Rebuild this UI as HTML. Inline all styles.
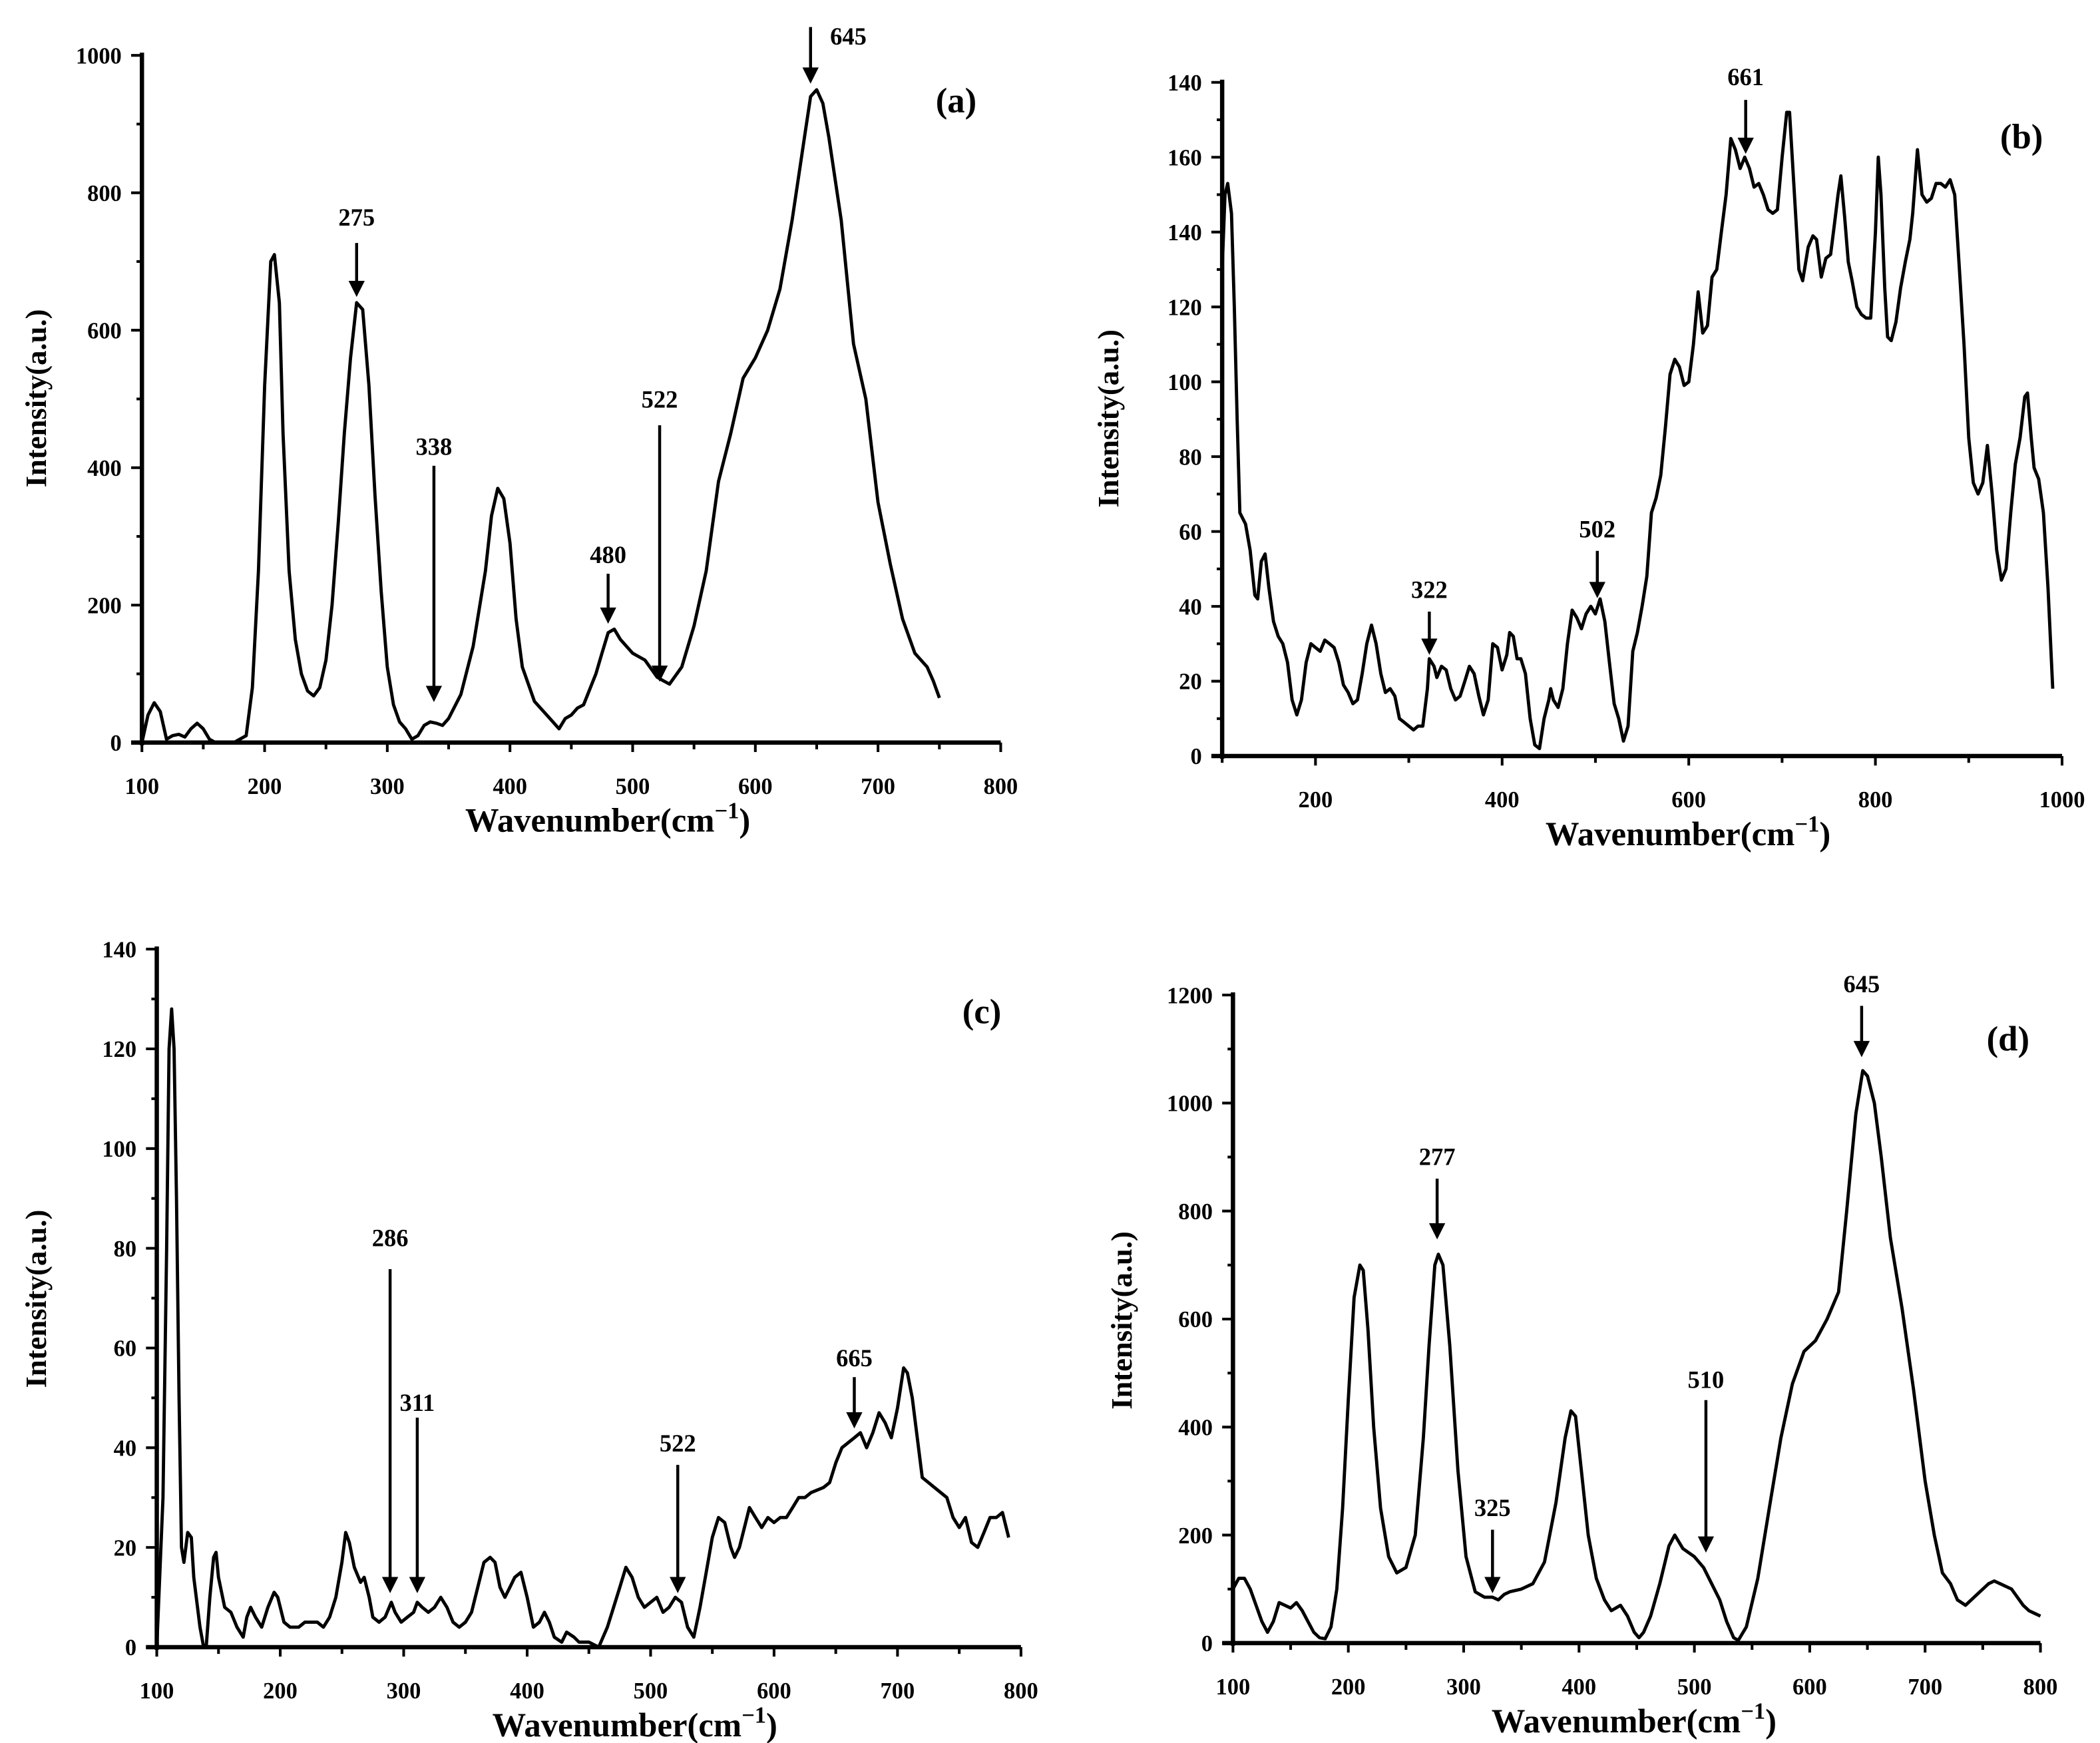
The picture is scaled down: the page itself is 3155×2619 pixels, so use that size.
<!DOCTYPE html>
<html><head><meta charset="utf-8"><style>
html,body{margin:0;padding:0;background:#fff;}
svg{display:block;}
text{font-family:"Liberation Serif","Times New Roman",serif;font-weight:bold;fill:#000;}
</style></head><body>
<svg id="fig" width="3155" height="2619" viewBox="0 0 1555 1291" xmlns="http://www.w3.org/2000/svg"></svg>
<script>
const seriesA = [[100,0],[105,40],[110,58],[115,45],[120,5],[125,10],[130,12],[135,8],[140,20],[145,28],[150,20],[155,5],[160,0],[175,0],[185,10],[190,80],[195,250],[200,520],[205,700],[208,710],[212,640],[215,450],[220,250],[225,150],[230,100],[235,75],[240,68],[245,80],[250,120],[255,200],[260,320],[265,450],[270,560],[275,640],[280,630],[285,520],[290,360],[295,220],[300,110],[305,55],[310,30],[315,20],[320,5],[325,10],[330,25],[335,30],[340,28],[345,25],[350,35],[360,70],[370,140],[380,250],[385,330],[390,370],[395,355],[400,290],[405,180],[410,110],[420,60],[430,40],[435,30],[440,20],[445,35],[450,40],[455,50],[460,55],[470,100],[475,130],[480,160],[485,165],[490,150],[500,130],[510,120],[520,95],[525,90],[530,85],[540,110],[550,170],[560,250],[570,380],[580,450],[590,530],[600,560],[610,600],[620,660],[630,760],[640,880],[645,940],[650,950],[655,930],[660,880],[670,760],[680,580],[690,500],[700,350],[710,260],[720,180],[730,130],[740,110],[745,90],[750,65]];
const seriesB = [[100,130],[103,150],[106,153],[110,145],[113,120],[116,90],[119,65],[125,62],[130,55],[135,43],[138,42],[142,52],[146,54],[150,45],[155,36],[160,32],[165,30],[170,25],[175,15],[180,11],[185,15],[190,25],[195,30],[200,29],[205,28],[210,31],[215,30],[220,29],[225,25],[230,19],[235,17],[240,14],[245,15],[250,22],[255,30],[260,35],[265,30],[270,22],[275,17],[280,18],[285,16],[290,10],[295,9],[300,8],[305,7],[310,8],[315,8],[320,18],[322,26],[327,24],[330,21],[335,24],[340,23],[345,18],[350,15],[355,16],[360,20],[365,24],[370,22],[375,16],[380,11],[385,15],[390,30],[395,29],[400,23],[405,27],[408,33],[412,32],[416,26],[420,26],[425,22],[430,10],[435,3],[440,2],[445,10],[450,15],[452,18],[455,15],[460,13],[465,18],[470,30],[475,39],[480,37],[485,34],[490,38],[495,40],[500,38],[505,42],[510,36],[515,25],[520,14],[525,10],[530,4],[535,8],[540,28],[545,33],[550,40],[555,48],[560,65],[565,69],[570,75],[575,88],[580,102],[585,106],[590,104],[595,99],[600,100],[605,110],[610,124],[615,113],[620,115],[625,128],[630,130],[635,140],[640,150],[645,165],[650,162],[655,157],[660,160],[665,157],[670,152],[675,153],[680,150],[685,146],[690,145],[695,146],[700,160],[705,172],[708,172],[712,155],[718,130],[722,127],[728,136],[733,139],[737,138],[742,128],[747,133],[752,134],[756,142],[760,150],[763,155],[767,144],[771,132],[775,127],[780,120],[785,118],[790,117],[795,117],[800,140],[803,160],[806,150],[810,125],[813,112],[817,111],[822,116],[827,125],[832,132],[837,138],[840,145],[845,162],[850,150],[855,148],[860,149],[865,153],[870,153],[875,152],[880,154],[885,150],[890,130],[895,110],[900,85],[905,73],[910,70],[915,73],[920,83],[925,70],[930,55],[935,47],[940,50],[945,65],[950,78],[955,85],[960,96],[963,97],[967,85],[970,77],[975,74],[980,65],[985,45],[990,18]];
const seriesC = [[100,0],[105,30],[108,80],[110,120],[112,128],[114,120],[116,90],[118,50],[120,20],[122,17],[125,23],[128,22],[130,14],[135,4],[138,0],[140,0],[143,10],[146,18],[148,19],[150,14],[155,8],[160,7],[165,4],[170,2],[173,6],[176,8],[180,6],[185,4],[190,8],[195,11],[198,10],[203,5],[208,4],[215,4],[220,5],[225,5],[230,5],[235,4],[240,6],[245,10],[250,17],[253,23],[256,21],[260,16],[265,13],[268,14],[272,10],[275,6],[280,5],[285,6],[290,9],[293,7],[298,5],[303,6],[308,7],[311,9],[315,8],[320,7],[325,8],[330,10],[335,8],[340,5],[345,4],[350,5],[355,7],[360,12],[365,17],[370,18],[374,17],[378,12],[382,10],[386,12],[390,14],[395,15],[400,10],[405,4],[410,5],[414,7],[418,5],[422,2],[428,1],[432,3],[438,2],[442,1],[450,1],[458,0],[465,4],[470,8],[475,12],[480,16],[485,14],[490,10],[495,8],[500,9],[505,10],[510,7],[515,8],[520,10],[525,9],[530,4],[535,2],[540,8],[545,15],[550,22],[555,26],[560,25],[565,20],[568,18],[572,20],[576,24],[580,28],[585,26],[590,24],[595,26],[600,25],[605,26],[610,26],[615,28],[620,30],[625,30],[630,31],[640,32],[645,33],[650,37],[655,40],[660,41],[665,42],[670,43],[675,40],[680,43],[685,47],[690,45],[695,42],[700,48],[705,56],[708,55],[712,50],[716,42],[720,34],[730,32],[740,30],[745,26],[750,24],[755,26],[760,21],[765,20],[770,23],[775,26],[780,26],[785,27],[790,22]];
const seriesD = [[100,100],[105,120],[110,120],[115,100],[120,70],[125,40],[130,20],[135,40],[140,75],[145,70],[150,65],[155,75],[160,60],[165,40],[170,20],[175,10],[180,8],[185,30],[190,100],[195,250],[200,450],[205,640],[210,700],[213,690],[217,580],[222,400],[228,250],[235,160],[242,130],[250,140],[258,200],[265,380],[270,550],[275,700],[278,720],[282,700],[288,550],[295,320],[302,160],[310,95],[318,85],[325,85],[330,80],[335,90],[340,95],[350,100],[360,110],[370,150],[380,260],[388,380],[393,430],[397,420],[402,320],[408,200],[415,120],[422,80],[428,60],[432,65],[436,70],[442,50],[448,20],[452,10],[456,20],[462,50],[470,110],[478,180],[483,200],[490,175],[500,160],[508,140],[515,110],[522,80],[528,40],[534,10],[538,5],[545,30],[555,120],[565,250],[575,380],[585,480],[595,540],[605,560],[615,600],[625,650],[632,800],[640,980],[646,1060],[650,1050],[656,1000],[662,900],[670,750],[680,620],[690,470],[700,300],[708,200],[715,130],[722,110],[728,80],[735,70],[745,90],[755,110],[760,115],[765,110],[775,100],[785,70],[790,60],[795,55],[800,50]];
const yLabelsA = ["0","200","400","600","800","1000"];
const yLabelsB = ["0","20","40","60","80","100","120","140","160","140"];
const yLabelsC = ["0","20","40","60","80","100","120","140"];
const yLabelsD = ["0","200","400","600","800","1000","1200"];
const xLabelsA = ["100","200","300","400","500","600","700","800"];
const xLabelsB = ["200","400","600","800","1000"];
const xLabelsC = ["100","200","300","400","500","600","700","800"];
const xLabelsD = ["100","200","300","400","500","600","700","800"];
const annotA = [["275",275,167,180,220],["338",338,337,345,520],["480",480,417,425,462],["522",522,302,315,505],["645",645,33,20,62]];
const annotB = [["661",661,63,74,114],["322",322,443,453,485],["502",502,398,408,443]];
const annotC = [["286",289,923,940,1180],["311",311,1045,1050,1180],["522",522,1075,1085,1180],["665",665,1012,1020,1058]];
const annotD = [["277",277,863,873,918],["325",325,1123,1133,1180],["510",510,1028,1037,1150],["645",645,735,745,783]];

const NS="http://www.w3.org/2000/svg";
const svg=document.getElementById('fig');
function mk(tag,attrs,parent){const e=document.createElementNS(NS,tag);for(const k in attrs)e.setAttribute(k,attrs[k]);(parent||svg).appendChild(e);return e;}

function panel(cfg){
  const g=mk('g',{});
  
  
  const X=v=>cfg.x0+(v-cfg.xmin)/(cfg.xmax-cfg.xmin)*(cfg.x1-cfg.x0);
  const Y=v=>cfg.y0-(v-cfg.ymin)/(cfg.ymax-cfg.ymin)*(cfg.y0-cfg.y1);
  const ya=mk('line',{x1:cfg.x0,y1:cfg.y0+2,x2:cfg.x0,y2:cfg.y1-2,stroke:'#000','stroke-width':3.2},g);
  
  
  const xa=mk('line',{x1:cfg.x0-8,y1:cfg.y0,x2:cfg.x1,y2:cfg.y0,stroke:'#000','stroke-width':3.2},g);
  
  
  for(let v=cfg.ymin;v<=cfg.ymax+1e-9;v+=cfg.yMinor){
    const major=Math.abs((v/cfg.yStep)-Math.round(v/cfg.yStep))<1e-6;
    mk('line',{x1:cfg.x0-(major?8:4),y1:Y(v),x2:cfg.x0,y2:Y(v),stroke:'#000','stroke-width':2},g);
  }
  cfg.yLabels.forEach((t,i)=>{
    const tx=mk('text',{x:cfg.x0-15,y:Y(cfg.ymin+i*cfg.yStep)+6,'text-anchor':'end','font-size':17},g);
    tx.textContent=t;
    
    
  });
  for(let v=cfg.xTickStart;v<=cfg.xmax+1e-9;v+=cfg.xMinor){
    const major=Math.abs(((v-cfg.xLabStart)/cfg.xStep)-Math.round((v-cfg.xLabStart)/cfg.xStep))<1e-6;
    mk('line',{x1:X(v),y1:cfg.y0,x2:X(v),y2:cfg.y0+(major?7:5),stroke:'#000','stroke-width':2},g);
  }
  cfg.xLabels.forEach((t,i)=>{
    const tx=mk('text',{x:X(cfg.xLabStart+i*cfg.xStep),y:cfg.y0+38,'text-anchor':'middle','font-size':17},g);
    tx.textContent=t;
    
    
  });
  const xt=mk('text',{x:cfg.xtX,y:cfg.y0+66,'text-anchor':'middle','font-size':25},g);
  xt.innerHTML='Wavenumber(cm<tspan dy="-10" font-size="17">−1</tspan><tspan dy="10">)</tspan>';
  
  
  const yt=mk('text',{x:0,y:0,'text-anchor':'middle','font-size':22,transform:`translate(${cfg.ytX},${cfg.ytY}) rotate(-90)`},g);
  yt.textContent='Intensity(a.u.)';
  
  
  const pl=mk('text',{x:cfg.plX,y:cfg.plY,'text-anchor':'middle','font-size':26},g);
  pl.textContent=cfg.pl;
  
  
  const d=cfg.data.map((p,i)=>(i?'L':'M')+X(p[0]).toFixed(1)+','+Y(p[1]).toFixed(1)).join('');
  const path=mk('path',{d:d,fill:'none',stroke:'#000','stroke-width':2.4,'stroke-linejoin':'round'},g);
  
  
  cfg.annot.forEach(a=>{
    const ax=X(a[1]);
    const lt=mk('text',{x:ax+(a[0]==='645'&&cfg.pl==='(a)'?28:0),y:a[2],'text-anchor':'middle','font-size':18},g);
    lt.textContent=a[0];
    
    
    const ln=mk('line',{x1:ax,y1:a[3],x2:ax,y2:a[4]-8,stroke:'#000','stroke-width':2.2},g);
    
    
    mk('path',{d:`M${ax-6},${a[4]-12}L${ax+6},${a[4]-12}L${ax},${a[4]}Z`,fill:'#000'},g);
  });
}

panel({name:'panel-a',data:seriesA,annot:annotA,x0:105,x1:741,xmin:100,xmax:800,y0:550,y1:41,ymin:0,ymax:1000,
  yStep:200,yMinor:100,yLabels:yLabelsA,xTickStart:100,xMinor:50,xLabStart:100,xStep:100,xLabels:xLabelsA,
  xtX:450,ytX:34,ytY:295,pl:'(a)',plX:708,plY:83});
panel({name:'panel-b',data:seriesB,annot:annotB,x0:905,x1:1527,xmin:100,xmax:1000,y0:560,y1:61,ymin:0,ymax:180,
  yStep:20,yMinor:10,yLabels:yLabelsB,xTickStart:100,xMinor:100,xLabStart:200,xStep:200,xLabels:xLabelsB,
  xtX:1250,ytX:828,ytY:310,pl:'(b)',plX:1497,plY:110});
panel({name:'panel-c',data:seriesC,annot:annotC,x0:116,x1:756,xmin:100,xmax:800,y0:1220,y1:703,ymin:0,ymax:140,
  yStep:20,yMinor:10,yLabels:yLabelsC,xTickStart:100,xMinor:50,xLabStart:100,xStep:100,xLabels:xLabelsC,
  xtX:470,ytX:34,ytY:962,pl:'(c)',plX:727,plY:758});
panel({name:'panel-d',data:seriesD,annot:annotD,x0:913,x1:1511,xmin:100,xmax:800,y0:1217,y1:737,ymin:0,ymax:1200,
  yStep:200,yMinor:100,yLabels:yLabelsD,xTickStart:100,xMinor:50,xLabStart:100,xStep:100,xLabels:xLabelsD,
  xtX:1210,ytX:838,ytY:978,pl:'(d)',plX:1487,plY:778});
</script>
</body></html>
